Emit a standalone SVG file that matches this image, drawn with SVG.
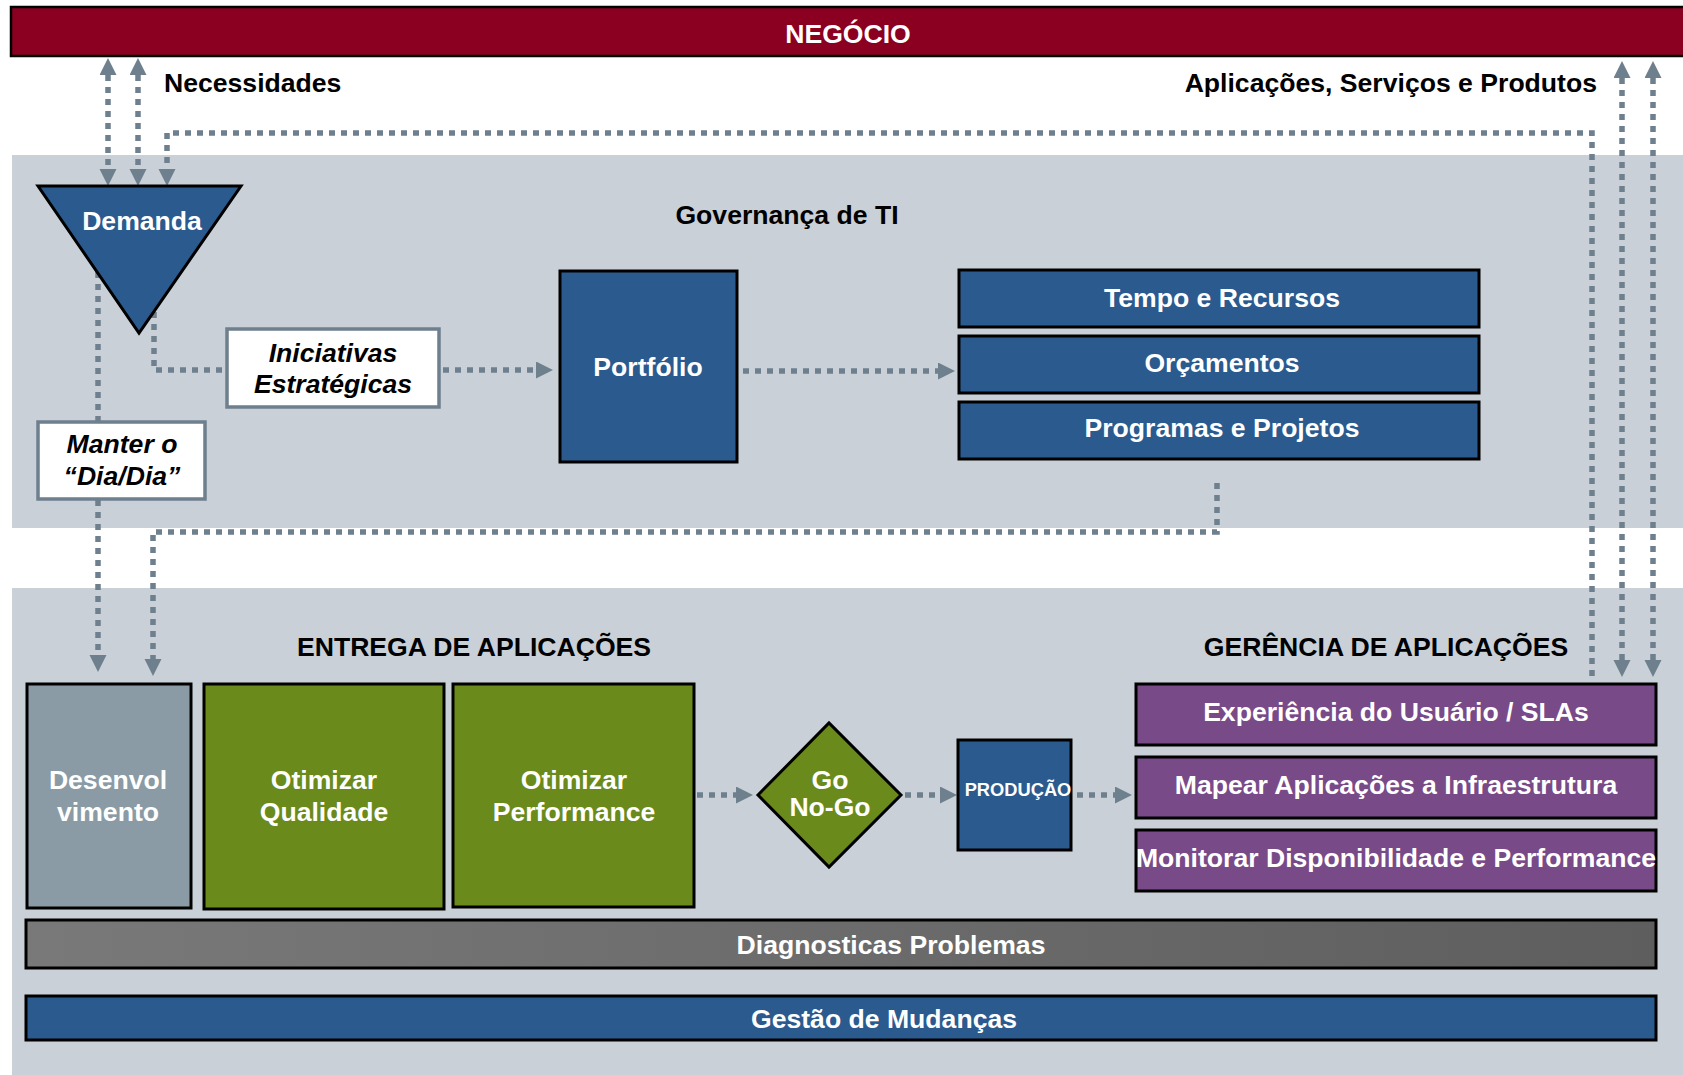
<svg xmlns="http://www.w3.org/2000/svg" width="1683" height="1075" viewBox="0 0 1683 1075">
<style>
text{font-family:"Liberation Sans",Arial,Helvetica,sans-serif;font-weight:bold;font-size:26.6px}
.w{fill:#fff}
.k{fill:#000}
.c{text-anchor:middle}
.it{font-style:italic}
.blue{fill:#2A5A8E;stroke:#000;stroke-width:3}
.green{fill:#6A8A1B;stroke:#000;stroke-width:3}
.purple{fill:#784A88;stroke:#000;stroke-width:3}
.panel{fill:#C9D0D7}
.conn{fill:none;stroke:#6E7F8D;stroke-width:5.5;stroke-dasharray:6 6}
.arr{marker-end:url(#ah)}
.dbl{marker-end:url(#ah);marker-start:url(#ah)}
</style>
<defs>
<marker id="ah" markerUnits="userSpaceOnUse" markerWidth="18" markerHeight="18" refX="0" refY="8.5" orient="auto-start-reverse" viewBox="0 0 18 18">
<path d="M0,0 L17,8.5 L0,17 z" fill="#6E7F8D"/>
</marker>
<linearGradient id="gd" x1="0" y1="0" x2="1" y2="0">
<stop offset="0" stop-color="#797979"/>
<stop offset="1" stop-color="#5E5E5E"/>
</linearGradient>
</defs>
<rect width="1683" height="1075" fill="#fff"/>
<g id="backgrounds">
<rect class="panel" x="12" y="155" width="1690" height="373"/>
<rect class="panel" x="12" y="588" width="1690" height="500"/>
</g>
<g id="negocio">
<rect x="11" y="7" width="1700" height="49" fill="#8B0021" stroke="#000" stroke-width="2.5"/>
<text class="w c" x="848" y="43">NEGÓCIO</text>
</g>
<g id="labels">
<text class="k" x="164" y="92">Necessidades</text>
<text class="k" x="1597" y="92" text-anchor="end">Aplicações, Serviços e Produtos</text>
<text class="k c" x="787" y="224">Governança de TI</text>
<text class="k c" x="474" y="656">ENTREGA DE APLICAÇÕES</text>
<text class="k c" x="1386" y="656">GERÊNCIA DE APLICAÇÕES</text>
</g>
<g id="connectors">
<path class="conn dbl" d="M108,75 V169"/>
<path class="conn dbl" d="M138,75 V169"/>
<path class="conn arr" d="M1592,676 V133 H167 V169"/>
<path class="conn dbl" d="M1622,78 V660"/>
<path class="conn dbl" d="M1653,78 V660"/>
<path class="conn arr" d="M98,260 V655"/>
<path class="conn" d="M154,300 V370 H227"/>
<path class="conn arr" d="M443,370 H536"/>
<path class="conn arr" d="M743,371 H938"/>
<path class="conn arr" d="M1217,483 V532 H153 V659"/>
<path class="conn arr" d="M697,795 H736"/>
<path class="conn arr" d="M905,795 H940"/>
<path class="conn arr" d="M1077,795 H1115"/>
</g>
<g id="demanda">
<polygon points="38,186 241,186 139,333" class="blue"/>
<text class="w c" x="142" y="230">Demanda</text>
</g>
<g id="iniciativas">
<rect x="227" y="329" width="212" height="78" fill="#fff" stroke="#6E7F8D" stroke-width="3.5"/>
<text class="k c it" x="333" y="362">Iniciativas</text>
<text class="k c it" x="333" y="393">Estratégicas</text>
</g>
<g id="manter">
<rect x="38" y="422" width="167" height="77" fill="#fff" stroke="#6E7F8D" stroke-width="3.5"/>
<text class="k c it" x="122" y="453">Manter o</text>
<text class="k c it" x="122" y="485">“Dia/Dia”</text>
</g>
<g id="portfolio">
<rect class="blue" x="560" y="271" width="177" height="191"/>
<text class="w c" x="648" y="376">Portfólio</text>
</g>
<g id="tempo">
<rect class="blue" x="959" y="270" width="520" height="57"/>
<text class="w c" x="1222" y="307">Tempo e Recursos</text>
</g>
<g id="orcamentos">
<rect class="blue" x="959" y="336" width="520" height="57"/>
<text class="w c" x="1222" y="372">Orçamentos</text>
</g>
<g id="programas">
<rect class="blue" x="959" y="402" width="520" height="57"/>
<text class="w c" x="1222" y="437">Programas e Projetos</text>
</g>
<g id="desenvolvimento">
<rect x="27" y="684" width="164" height="224" fill="#8A9BA6" stroke="#000" stroke-width="3"/>
<text class="w c" x="108" y="789">Desenvol</text>
<text class="w c" x="108" y="821">vimento</text>
</g>
<g id="qualidade">
<rect class="green" x="204" y="684" width="240" height="225"/>
<text class="w c" x="324" y="789">Otimizar</text>
<text class="w c" x="324" y="821">Qualidade</text>
</g>
<g id="performance">
<rect class="green" x="453" y="684" width="241" height="223"/>
<text class="w c" x="574" y="789">Otimizar</text>
<text class="w c" x="574" y="821">Performance</text>
</g>
<g id="gonogo">
<polygon class="green" points="758,795 829,723 901,795 829,867"/>
<text class="w c" x="830" y="789">Go</text>
<text class="w c" x="830" y="816">No-Go</text>
</g>
<g id="producao">
<rect class="blue" x="958" y="740" width="113" height="110"/>
<text class="w c" x="1018" y="796" style="font-size:18.3px">PRODUÇÃO</text>
</g>
<g id="experiencia">
<rect class="purple" x="1136" y="684" width="520" height="61"/>
<text class="w c" x="1396" y="721">Experiência do Usuário / SLAs</text>
</g>
<g id="mapear">
<rect class="purple" x="1136" y="757" width="520" height="61"/>
<text class="w c" x="1396" y="794">Mapear Aplicações a Infraestrutura</text>
</g>
<g id="monitorar">
<rect class="purple" x="1136" y="830" width="520" height="61"/>
<text class="w c" x="1396" y="867">Monitorar Disponibilidade e Performance</text>
</g>
<g id="diagnosticas">
<rect x="26" y="920" width="1630" height="48" fill="url(#gd)" stroke="#000" stroke-width="3"/>
<text class="w c" x="891" y="954">Diagnosticas Problemas</text>
</g>
<g id="gestao">
<rect class="blue" x="26" y="996" width="1630" height="44"/>
<text class="w c" x="884" y="1028">Gestão de Mudanças</text>
</g>
</svg>
